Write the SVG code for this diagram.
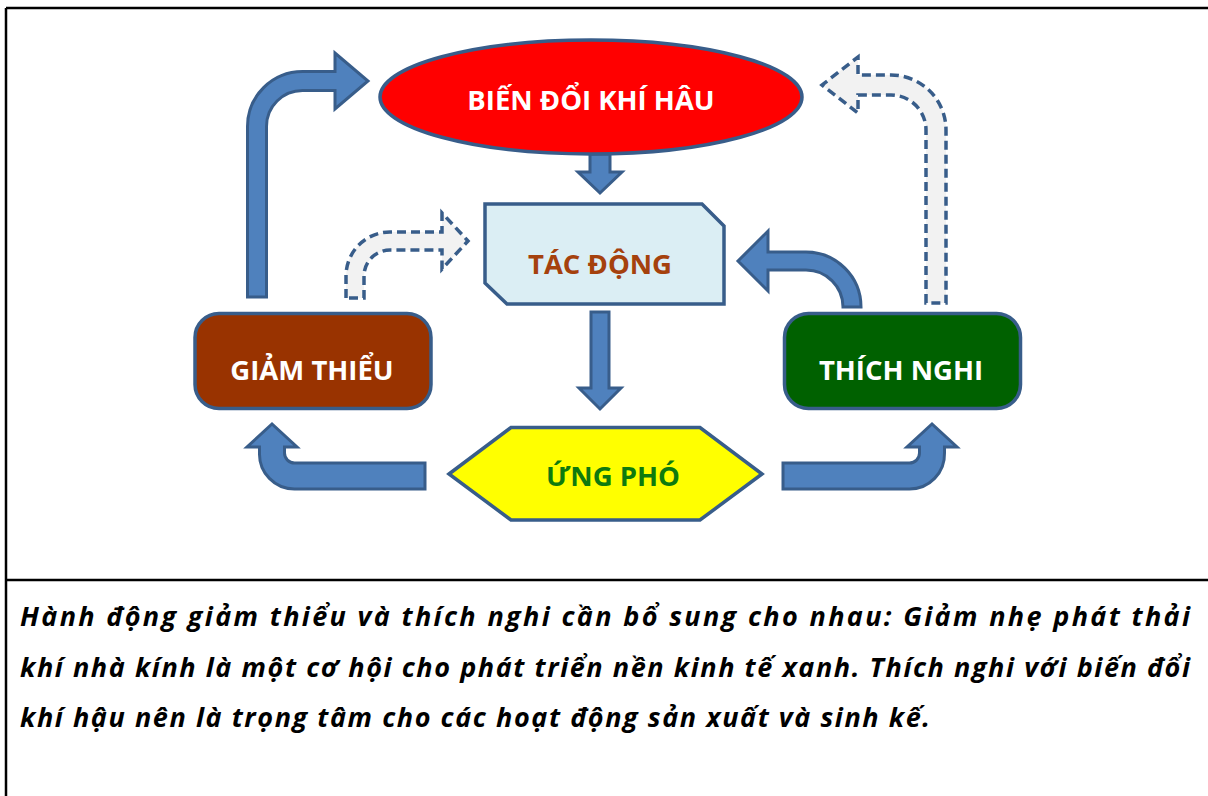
<svg xmlns="http://www.w3.org/2000/svg" width="1208" height="796" viewBox="0 0 1208 796">
<style>
.frame{stroke:#000;stroke-width:2.5;fill:none}
.node{stroke:#385D8A;stroke-width:3.5}
.lbl{font-family:"Open Sans","Noto Sans",sans-serif;font-weight:bold;font-size:27.5px;text-anchor:middle}
.arr{fill:#4F81BD;stroke:#385D8A;stroke-width:3;stroke-linejoin:miter}
.darr{fill:#F2F2F2;stroke:#385D8A;stroke-width:3.5;stroke-dasharray:9 5}
.cap{font-family:"Open Sans","Noto Sans",sans-serif;font-weight:bold;font-style:italic;font-size:27px;fill:#000}
</style>
<rect width="1208" height="796" fill="#fff"/>
<g id="frame">
<path class="frame" d="M6,8 H1208 M6,8 V796 M6,580 H1208"/>
</g>
<g id="connectors">
<path class="arr" d="M247.5,297 L247.5,126.5 A55,55 0 0 1 302.5,71.5 L335,71.5 L335,53 L368,81 L335,109 L335,90.5 L302.5,90.5 A36,36 0 0 0 266.5,126.5 L266.5,297 Z"/>
<path class="darr" d="M926,303 L926,130 A35,35 0 0 0 891,95 L858,95 L858,113 L822,85 L858,57 L858,75 L891,75 A55,55 0 0 1 946,130 L946,303 Z"/>
<path class="darr" d="M346,298 L346,276 A44,44 0 0 1 390,232 L442,232 L442,213 L468,241 L442,269 L442,250 L390,250 A26,26 0 0 0 364,276 L364,298 Z"/>
<path class="arr" d="M843,307 A37,37 0 0 0 806,270 L768,270 L768,291 L738,261 L768,231 L768,252 L806,252 A55,55 0 0 1 861,307 Z"/>
<path class="arr" d="M425,463 L294.5,463 A10,10 0 0 1 284.5,453 L284.5,447 L297,447 L272,424 L247,447 L259.5,447 L259.5,453 A35,35 0 0 0 294.5,489 L425,489 Z"/>
<path class="arr" d="M783,463 L909.5,463 A10,10 0 0 0 919.5,453 L919.5,447 L907,447 L932,424 L957,447 L944.5,447 L944.5,453 A35,35 0 0 1 909.5,489 L783,489 Z"/>
<path class="arr" d="M590,154 L610,154 L610,172 L622,172 L600,193 L578,172 L590,172 Z"/>
<path class="arr" d="M591,312 L609,312 L609,388 L621,388 L600,409 L579,388 L591,388 Z"/>
</g>
<g id="node-bien-doi">
<ellipse class="node" cx="591" cy="97" rx="211" ry="57" fill="#FF0000"/>
<text class="lbl" x="591" y="110" fill="#fff">BIẾN ĐỔI KHÍ HÂU</text>
</g>
<g id="node-tac-dong">
<polygon class="node" points="485,204 702,204 724,226 724,304 507,304 485,283" fill="#DBEEF4"/>
<text class="lbl" x="600" y="274" fill="#A5410D">TÁC ĐỘNG</text>
</g>
<g id="node-giam-thieu">
<rect class="node" x="195" y="313.5" width="236" height="95" rx="24" fill="#993300"/>
<text class="lbl" x="312" y="380" fill="#fff">GIẢM THIỂU</text>
</g>
<g id="node-thich-nghi">
<rect class="node" x="784.5" y="313.5" width="236" height="95" rx="24" fill="#006100"/>
<text class="lbl" x="901" y="380" fill="#fff">THÍCH NGHI</text>
</g>
<g id="node-ung-pho">
<polygon class="node" points="449,474 511,427.5 700,427.5 762,474 700,520 511,520" fill="#FFFF00"/>
<text class="lbl" x="613" y="486" fill="#0E7A0E">ỨNG PHÓ</text>
</g>
<g id="caption">
<text class="cap" x="20" y="626" textLength="1170" lengthAdjust="spacing">Hành động giảm thiểu và thích nghi cần bổ sung cho nhau: Giảm nhẹ phát thải</text>
<text class="cap" x="20" y="677" textLength="1170" lengthAdjust="spacing">khí nhà kính là một cơ hội cho phát triển nền kinh tế xanh. Thích nghi với biến đổi</text>
<text class="cap" x="20" y="727" textLength="910" lengthAdjust="spacing">khí hậu nên là trọng tâm cho các hoạt động sản xuất và sinh kế.</text>
</g>
</svg>
